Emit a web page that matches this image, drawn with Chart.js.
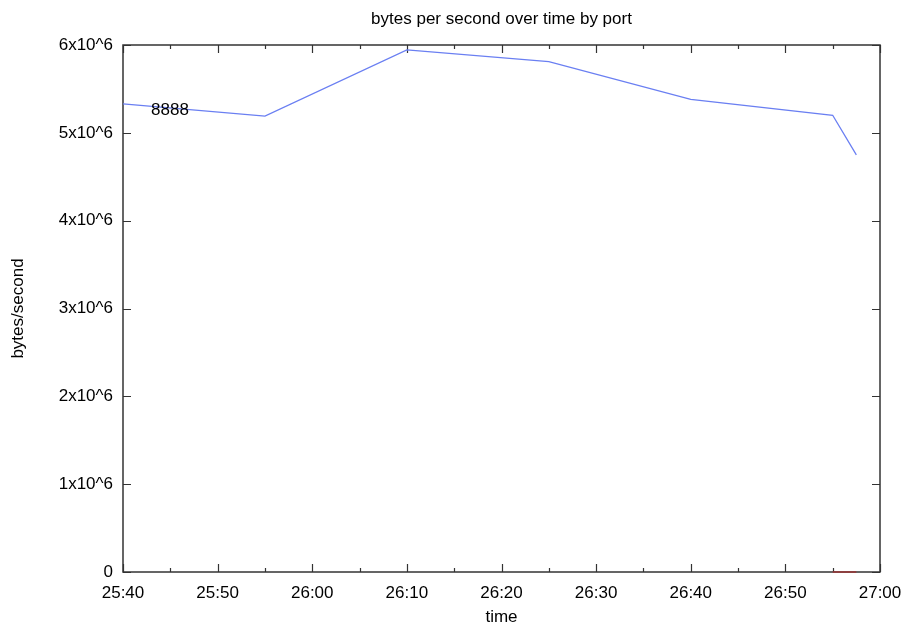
<!DOCTYPE html>
<html>
<head>
<meta charset="utf-8">
<title>bytes per second over time by port</title>
<script src="https://cdn.jsdelivr.net/npm/chart.js@4/dist/chart.umd.min.js"></script>
<style>
  html, body { margin: 0; padding: 0; background: #fff; }
  #wrap { width: 906px; height: 626px; position: relative; }
</style>
</head>
<body>
<div id="wrap"><canvas id="bps-chart"></canvas></div>
<script>
// ---- data ----
const chartTitle = 'bytes per second over time by port';
const xTitle = 'time';
const yTitle = 'bytes/second';
const portLabel = '8888';

// time in seconds (25:40 -> 1540)
const timeSeconds = [1540, 1555, 1570, 1585, 1600, 1615, 1617.5];
const bytesPerSecond = [5330000, 5190000, 5945000, 5810000, 5380000, 5200000, 4750000];

// second port, only a short run at zero near the end
const otherTimes = [1615, 1617.5];
const otherBytes = [0, 0];

const xMin = 1540, xMax = 1620, xMinorStep = 5, xMajorStep = 10;
const yMin = 0, yMax = 6000000, yStep = 1000000;

const FONT = '"Liberation Sans", Arial, Helvetica, sans-serif';

const fmtTime = (v) => {
    const m = Math.floor(v / 60);
    const s = Math.round(v - m * 60);
    return m + ':' + String(s).padStart(2, '0');
};
const fmtBytes = (v) => v === 0 ? '0' : (v / 1e6) + 'x10^6';

// frame + inward ticks on all four sides, gnuplot style
const framePlugin = {
    id: 'frame',
    beforeDatasetsDraw(chart) {
        const { ctx, chartArea: a, scales: { x, y } } = chart;
        ctx.save();
        ctx.strokeStyle = '#333';
        ctx.lineWidth = 1.2;
        ctx.beginPath();
        for (let v = xMin; v <= xMax; v += xMinorStep) {
            const px = Math.round(x.getPixelForValue(v)) + 0.5;
            const len = (v % xMajorStep === 0) ? 8 : 4;
            ctx.moveTo(px, a.bottom); ctx.lineTo(px, a.bottom - len);
            ctx.moveTo(px, a.top); ctx.lineTo(px, a.top + len);
        }
        for (let v = yMin; v <= yMax; v += yStep) {
            const py = Math.round(y.getPixelForValue(v)) + 0.5;
            ctx.moveTo(a.left, py); ctx.lineTo(a.left + 8, py);
            ctx.moveTo(a.right, py); ctx.lineTo(a.right - 8, py);
        }
        ctx.stroke();
        ctx.lineWidth = 1.5;
        ctx.strokeRect(a.left, a.top, a.right - a.left, a.bottom - a.top);
        ctx.restore();
    },
    afterDraw(chart) {
        const { ctx, chartArea: a } = chart;
        ctx.save();
        ctx.fillStyle = '#000';
        ctx.font = '17px ' + FONT;
        ctx.textAlign = 'center';
        ctx.textBaseline = 'middle';
        ctx.fillText(chartTitle, (a.left + a.right) / 2, 19);
        ctx.fillText(xTitle, (a.left + a.right) / 2, 617);
        ctx.fillText(portLabel, a.left + 47, 110);
        ctx.translate(18, (a.top + a.bottom) / 2);
        ctx.rotate(-Math.PI / 2);
        ctx.fillText(yTitle, 0, 0);
        ctx.restore();
    }
};

new Chart(document.getElementById('bps-chart'), {
    type: 'line',
    data: {
        datasets: [
            {
                label: portLabel,
                data: timeSeconds.map((t, i) => ({ x: t, y: bytesPerSecond[i] })),
                borderColor: '#6a7ff2',
                borderWidth: 1.3,
                pointRadius: 0,
                tension: 0
            },
            {
                label: 'other',
                data: otherTimes.map((t, i) => ({ x: t, y: otherBytes[i] })),
                borderColor: '#9b3535',
                borderWidth: 1.5,
                pointRadius: 0,
                tension: 0,
                clip: false
            }
        ]
    },
    options: {
        responsive: true,
        maintainAspectRatio: false,
        animation: false,
        layout: { padding: { top: 45, right: 26, left: 0, bottom: 0 } },
        plugins: {
            legend: { display: false },
            title: { display: false },
            tooltip: { enabled: false }
        },
        scales: {
            x: {
                type: 'linear',
                min: xMin,
                max: xMax,
                grid: { display: false, drawTicks: false },
                border: { display: false },
                ticks: {
                    stepSize: xMajorStep,
                    color: '#000',
                    font: { family: FONT, size: 17 },
                    padding: 11,
                    maxRotation: 0,
                    autoSkip: false,
                    callback: (v) => fmtTime(v)
                },
                afterFit: (s) => {
                    s.height = 54;
                    s.paddingLeft = 0;
                    s.paddingRight = 0;
                }
            },
            y: {
                min: yMin,
                max: yMax,
                grid: { display: false, drawTicks: false },
                border: { display: false },
                ticks: {
                    stepSize: yStep,
                    color: '#000',
                    font: { family: FONT, size: 17 },
                    padding: 10,
                    callback: (v) => fmtBytes(v)
                },
                afterFit: (s) => {
                    s.width = 123;
                    s.paddingTop = 0;
                    s.paddingBottom = 0;
                }
            }
        }
    },
    plugins: [framePlugin]
});
</script>
</body>
</html>
